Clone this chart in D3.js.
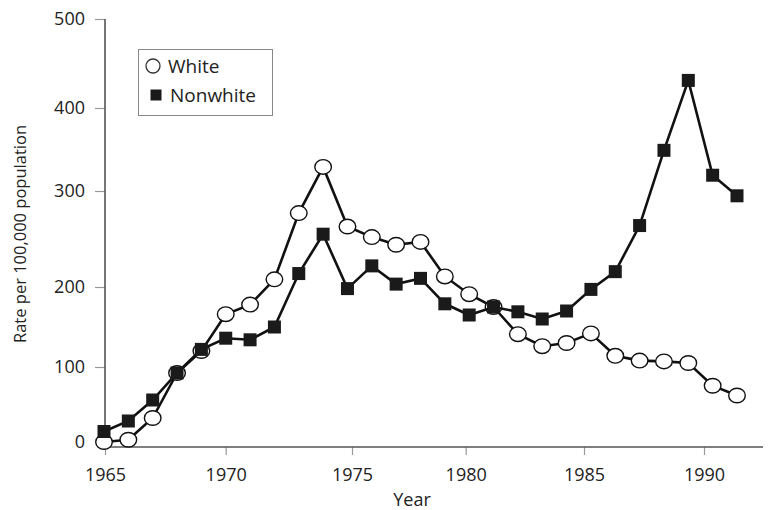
<!DOCTYPE html>
<html>
<head>
<meta charset="utf-8">
<script src="https://cdn.jsdelivr.net/npm/d3@7"></script>
<style>
  body { margin: 0; background: #fff; }
  svg { display: block; font-family: "Open Sans", "Noto Sans", sans-serif; }
</style>
</head>
<body>
<div class="canvas"></div>
<script>
// data
const years = [1965, 1966, 1967, 1968, 1969, 1970, 1971, 1972, 1973, 1974, 1975, 1976, 1977, 1978,
               1979, 1980, 1981, 1982, 1983, 1984, 1985, 1986, 1987, 1988, 1989, 1990, 1991];
const whiteRates = [0, 3, 32, 92, 120, 166, 178, 208, 277, 329, 263, 252, 244, 247,
                    211, 191, 175, 141, 126, 130, 142, 114, 108, 107, 105, 75, 62];
const nonwhiteRates = [14, 28, 56, 92, 122, 136, 134, 150, 214, 255, 198, 222, 203, 209,
                       179, 165, 175, 169, 160, 170, 197, 216, 264, 349, 431, 319, 295];
const xTicks = [1965, 1970, 1975, 1980, 1985, 1990];
const yTicks = [0, 100, 200, 300, 400, 500];

const svgWidth = 769, svgHeight = 510;
const axisX = 105, axisY = 447, axisRight = 763;

const svg = d3.select(".canvas").append("svg")
  .attr("width", svgWidth)
  .attr("height", svgHeight);

// the printed axis is not evenly spaced, so the scales follow the tick positions
const y = d3.scaleLinear()
  .domain(yTicks)
  .range([442, 367, 287, 191, 108, 19]);

// yearly points
const x = d3.scaleLinear()
  .domain([1965, 1991])
  .range([104, 737]);

// tick marks of the year axis
const xTickScale = d3.scaleLinear()
  .domain(xTicks)
  .range([105, 225.7, 352, 465.7, 584, 704]);

const white = years.map((yr, i) => ({ year: yr, value: whiteRates[i] }));
const nonwhite = years.map((yr, i) => ({ year: yr, value: nonwhiteRates[i] }));

// axes
const gy = svg.append("g")
  .attr("transform", `translate(${axisX},0)`)
  .call(d3.axisLeft(y).tickValues(yTicks).tickSize(10).tickPadding(10).tickSizeOuter(0));
gy.select(".domain").remove();
gy.selectAll(".tick line").attr("stroke", "#999").attr("stroke-width", 1.2);
gy.selectAll(".tick text").attr("font-size", 18).attr("fill", "#222")
  .attr("font-family", "Open Sans, sans-serif");
// hide 0 tick mark, it sits under the markers
gy.selectAll(".tick").filter(d => d === 0).select("line").remove();

const gx = svg.append("g")
  .attr("transform", `translate(0,${axisY})`)
  .call(d3.axisBottom(xTickScale).tickValues(xTicks).tickFormat(d3.format("d"))
    .tickSize(8).tickPadding(13).tickSizeOuter(0));
gx.select(".domain").remove();
gx.selectAll(".tick line").attr("stroke", "#999").attr("stroke-width", 1.2);
gx.selectAll(".tick text").attr("font-size", 18).attr("fill", "#222")
  .attr("font-family", "Open Sans, sans-serif");

svg.append("line")
  .attr("x1", axisX).attr("x2", axisX)
  .attr("y1", y(500)).attr("y2", axisY)
  .attr("stroke", "#555").attr("stroke-width", 1.6);
svg.append("line")
  .attr("x1", axisX).attr("x2", axisRight)
  .attr("y1", axisY).attr("y2", axisY)
  .attr("stroke", "#555").attr("stroke-width", 1.6);

// axis titles
svg.append("text")
  .attr("x", 412).attr("y", 506)
  .attr("text-anchor", "middle")
  .attr("font-size", 18).attr("fill", "#222")
  .text("Year");

svg.append("text")
  .attr("transform", "translate(26,234) rotate(-90)")
  .attr("text-anchor", "middle")
  .attr("font-size", 16.5).attr("fill", "#222")
  .text("Rate per 100,000 population");

const line = d3.line()
  .x(d => x(d.year))
  .y(d => y(d.value));

// white series
svg.append("path")
  .datum(white)
  .attr("d", line)
  .attr("fill", "none")
  .attr("stroke", "#111")
  .attr("stroke-width", 2.6);

svg.selectAll(".white")
  .data(white)
  .join("ellipse")
  .attr("class", "white")
  .attr("cx", d => x(d.year))
  .attr("cy", d => y(d.value))
  .attr("rx", 8.3)
  .attr("ry", 7.3)
  .attr("fill", "#fff")
  .attr("stroke", "#111")
  .attr("stroke-width", 1.4);

// nonwhite series
svg.append("path")
  .datum(nonwhite)
  .attr("d", line)
  .attr("fill", "none")
  .attr("stroke", "#111")
  .attr("stroke-width", 2.6);

const sq = 13;
svg.selectAll(".nonwhite")
  .data(nonwhite)
  .join("rect")
  .attr("class", "nonwhite")
  .attr("x", d => x(d.year) - sq / 2)
  .attr("y", d => y(d.value) - sq / 2)
  .attr("width", sq)
  .attr("height", sq)
  .attr("fill", "#1a1a1a");

// legend
const legend = svg.append("g");
legend.append("rect")
  .attr("x", 138.5).attr("y", 49.5)
  .attr("width", 134).attr("height", 66)
  .attr("fill", "#fff")
  .attr("stroke", "#888");
legend.append("circle")
  .attr("cx", 153).attr("cy", 66).attr("r", 7)
  .attr("fill", "#fff").attr("stroke", "#333").attr("stroke-width", 1.3);
legend.append("text")
  .attr("x", 168).attr("y", 66).attr("dy", "0.35em")
  .attr("font-size", 19).attr("fill", "#222")
  .text("White");
legend.append("rect")
  .attr("x", 150.5).attr("y", 89.5).attr("width", 11).attr("height", 11)
  .attr("fill", "#1a1a1a");
legend.append("text")
  .attr("x", 170).attr("y", 95).attr("dy", "0.35em")
  .attr("font-size", 19).attr("fill", "#222")
  .text("Nonwhite");
</script>
</body>
</html>
